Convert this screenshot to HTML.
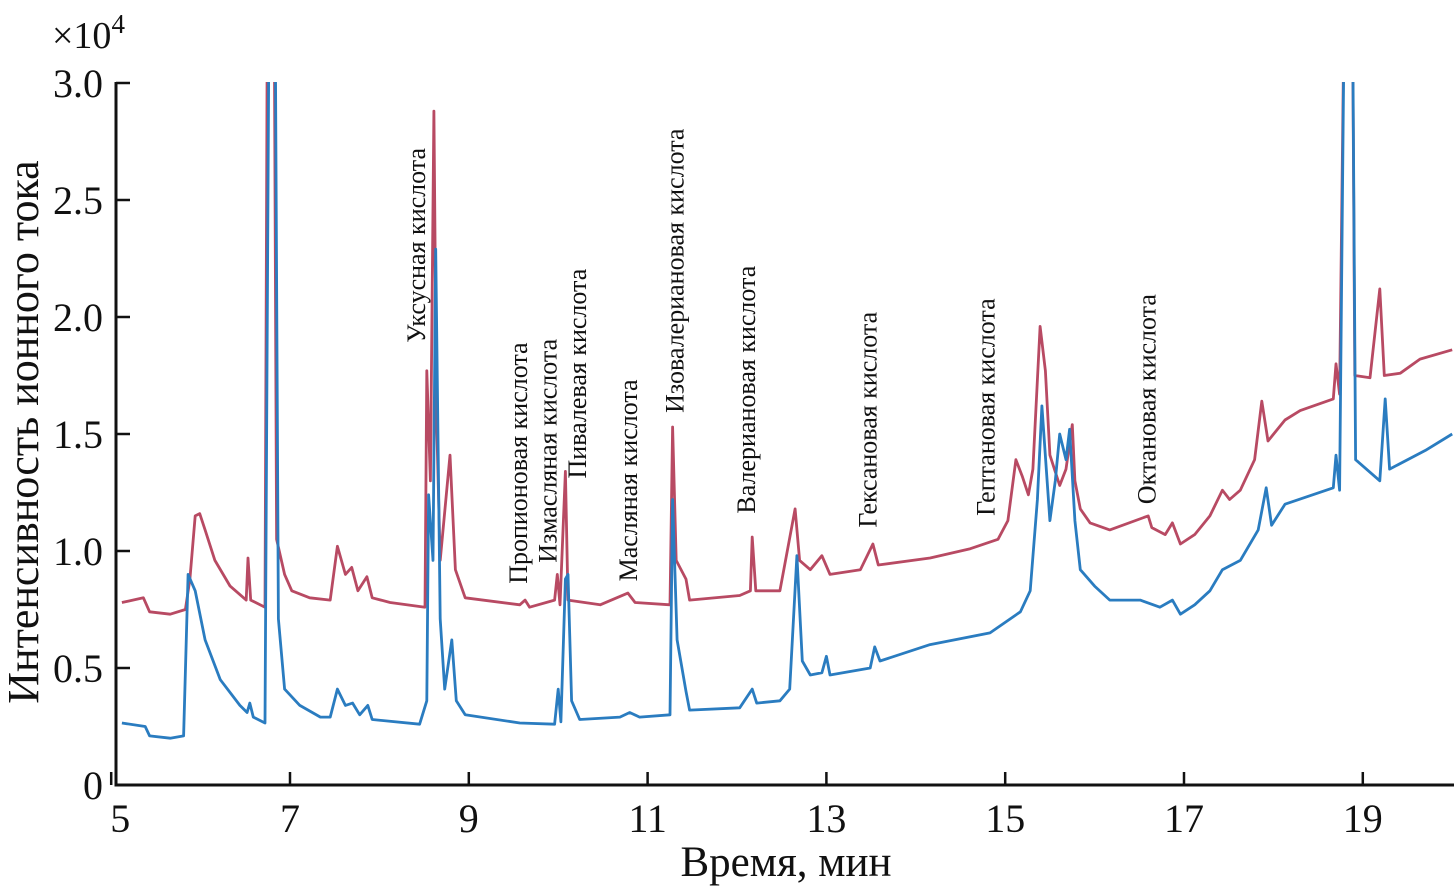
<!DOCTYPE html>
<html><head><meta charset="utf-8"><style>
html,body{margin:0;padding:0;background:#fff;}
svg{display:block;font-family:"Liberation Serif",serif;}
</style></head><body>
<svg id="chart" width="1454" height="890" viewBox="0 0 1454 890" xmlns="http://www.w3.org/2000/svg">
<defs><clipPath id="plotclip"><rect x="116" y="82" width="1340" height="705"/></clipPath></defs>
<g id="axes"></g>
<g id="series" clip-path="url(#plotclip)"></g>
<g id="labels"></g>
<text x="52" y="48" font-size="38" fill="#111">×10<tspan dy="-15" font-size="27">4</tspan></text>
<text transform="translate(38,432) rotate(-90)" text-anchor="middle" font-size="44" fill="#111">Интенсивность ионного тока</text>
<text x="786" y="876" text-anchor="middle" font-size="43" fill="#111">Время, мин</text>
</svg>
<script>
const xTicks=[5,7,9,11,13,15,17,19];
const yTicks=[0,0.5,1.0,1.5,2.0,2.5,3.0];
const yTickLabels=["0","0.5","1.0","1.5","2.0","2.5","3.0"];
const redT=[5.12,5.36,5.43,5.66,5.83,5.88,5.94,5.99,6.05,6.16,6.33,6.51,6.53,6.56,6.72,6.75,6.82,6.85,6.94,7.02,7.22,7.45,7.53,7.62,7.69,7.76,7.86,7.92,8.12,8.51,8.53,8.57,8.61,8.64,8.68,8.79,8.85,8.96,9.57,9.63,9.68,9.96,9.99,10.02,10.08,10.11,10.47,10.78,10.86,11.25,11.28,11.32,11.43,11.47,12.03,12.15,12.17,12.21,12.48,12.65,12.70,12.82,12.95,13.04,13.38,13.52,13.58,14.16,14.61,14.92,15.03,15.12,15.19,15.26,15.31,15.39,15.45,15.50,15.61,15.68,15.75,15.78,15.84,15.95,16.17,16.60,16.64,16.79,16.87,16.96,17.12,17.29,17.43,17.51,17.63,17.79,17.87,17.94,18.13,18.30,18.67,18.70,18.74,18.80,18.88,18.91,19.08,19.19,19.24,19.42,19.64,20.00];
const redV=[0.78,0.80,0.74,0.73,0.75,0.88,1.15,1.16,1.09,0.96,0.85,0.79,0.97,0.79,0.76,3.6,3.6,1.05,0.90,0.83,0.80,0.79,1.02,0.90,0.93,0.83,0.89,0.80,0.78,0.76,1.77,1.30,2.88,1.56,0.96,1.41,0.92,0.80,0.77,0.79,0.76,0.79,0.90,0.77,1.34,0.79,0.77,0.82,0.78,0.77,1.53,0.96,0.88,0.79,0.81,0.83,1.06,0.83,0.83,1.18,0.96,0.92,0.98,0.90,0.92,1.03,0.94,0.97,1.01,1.05,1.13,1.39,1.32,1.24,1.35,1.96,1.77,1.41,1.28,1.35,1.54,1.30,1.18,1.12,1.09,1.15,1.10,1.07,1.12,1.03,1.07,1.15,1.26,1.22,1.26,1.39,1.64,1.47,1.56,1.60,1.65,1.80,1.67,3.6,3.6,1.75,1.74,2.12,1.75,1.76,1.82,1.86];
const blueT=[5.12,5.38,5.43,5.66,5.81,5.86,5.94,6.05,6.22,6.44,6.52,6.55,6.59,6.72,6.77,6.83,6.87,6.94,7.11,7.34,7.45,7.53,7.62,7.70,7.78,7.87,7.92,8.45,8.53,8.55,8.60,8.63,8.68,8.73,8.81,8.86,8.96,9.57,9.96,10.00,10.03,10.08,10.11,10.15,10.24,10.69,10.80,10.91,11.25,11.28,11.33,11.43,11.47,12.03,12.17,12.22,12.48,12.59,12.67,12.73,12.82,12.95,13.00,13.04,13.49,13.54,13.60,14.16,14.83,15.17,15.28,15.36,15.41,15.46,15.50,15.56,15.61,15.68,15.72,15.78,15.84,16.00,16.17,16.51,16.73,16.87,16.96,17.12,17.29,17.43,17.63,17.83,17.92,17.98,18.13,18.67,18.70,18.74,18.80,18.88,18.92,19.19,19.25,19.30,19.70,20.00];
const blueV=[0.265,0.25,0.21,0.20,0.21,0.90,0.83,0.62,0.45,0.34,0.31,0.35,0.29,0.265,3.6,3.6,0.71,0.41,0.34,0.29,0.29,0.41,0.34,0.35,0.30,0.34,0.28,0.26,0.36,1.24,0.96,2.29,0.71,0.41,0.62,0.36,0.30,0.265,0.26,0.41,0.27,0.88,0.90,0.36,0.28,0.29,0.31,0.29,0.30,1.22,0.62,0.40,0.32,0.33,0.41,0.35,0.36,0.41,0.98,0.53,0.47,0.48,0.55,0.47,0.50,0.59,0.53,0.60,0.65,0.74,0.83,1.22,1.62,1.35,1.13,1.30,1.50,1.39,1.52,1.13,0.92,0.85,0.79,0.79,0.76,0.79,0.73,0.77,0.83,0.92,0.96,1.09,1.27,1.11,1.20,1.27,1.41,1.26,3.6,3.6,1.39,1.30,1.65,1.35,1.43,1.50];
const peakNames=["Уксусная кислота","Пропионовая кислота","Измасляная кислота","Пивалевая кислота","Масляная кислота","Изовалериановая кислота","Валериановая кислота","Гексановая кислота","Гептановая кислота","Октановая кислота"];
const peakTimes=[8.42,9.56,9.89,10.22,10.79,11.31,12.11,13.47,14.79,16.59];
const peakLabelValues=[1.89,0.86,0.95,1.31,0.87,1.59,1.16,1.10,1.15,1.20];

const NS="http://www.w3.org/2000/svg";
const xS=t=>290+(t-7)*89.4;
const yS=v=>785-v*234;
function mk(tag,attrs,parent){const e=document.createElementNS(NS,tag);for(const k in attrs)e.setAttribute(k,attrs[k]);parent.appendChild(e);return e;}
const axes=document.getElementById('axes');
let a=mk('line',{x1:116,y1:785,x2:1454,y2:785,stroke:'#111','stroke-width':3},axes);


a=mk('line',{x1:116,y1:82,x2:116,y2:786.5,stroke:'#111','stroke-width':3},axes);


xTicks.forEach(t=>{
  const tk=mk('line',{x1:xS(t),y1:785,x2:xS(t),y2:772,stroke:'#111','stroke-width':2.5},axes);
  
  
  const lb=mk('text',{x:xS(t)+(t===5?9:0),y:832,'text-anchor':'middle','font-size':40,fill:'#111'},axes);
  lb.textContent=t;
  
  
});
yTicks.forEach((v,i)=>{
  if(v>0){const tk=mk('line',{x1:116,y1:yS(v),x2:130,y2:yS(v),stroke:'#111','stroke-width':2.5},axes);
  
  }
  const lb=mk('text',{x:103,y:yS(v)+14,'text-anchor':'end','font-size':40,fill:'#111'},axes);
  lb.textContent=yTickLabels[i];
  
  
});
const series=document.getElementById('series');
function drawLine(T,V,color,name){
  const d=T.map((t,i)=>(i?'L':'M')+xS(t).toFixed(1)+','+yS(V[i]).toFixed(1)).join(' ');
  const p=mk('path',{d:d,fill:'none',stroke:color,'stroke-width':2.8,'stroke-linejoin':'round'},series);
  
  
}
drawLine(redT,redV,'#b84a63','red-series-line');
drawLine(blueT,blueV,'#2a7cc0','blue-series-line');
const labels=document.getElementById('labels');
peakNames.forEach((n,i)=>{
  const x=xS(peakTimes[i])+8, y=yS(peakLabelValues[i]);
  const t=mk('text',{transform:`translate(${x.toFixed(1)},${y.toFixed(1)}) rotate(-90)`,'font-size':26,fill:'#111'},labels);
  t.textContent=n;
  
  
});
</script>
</body></html>
